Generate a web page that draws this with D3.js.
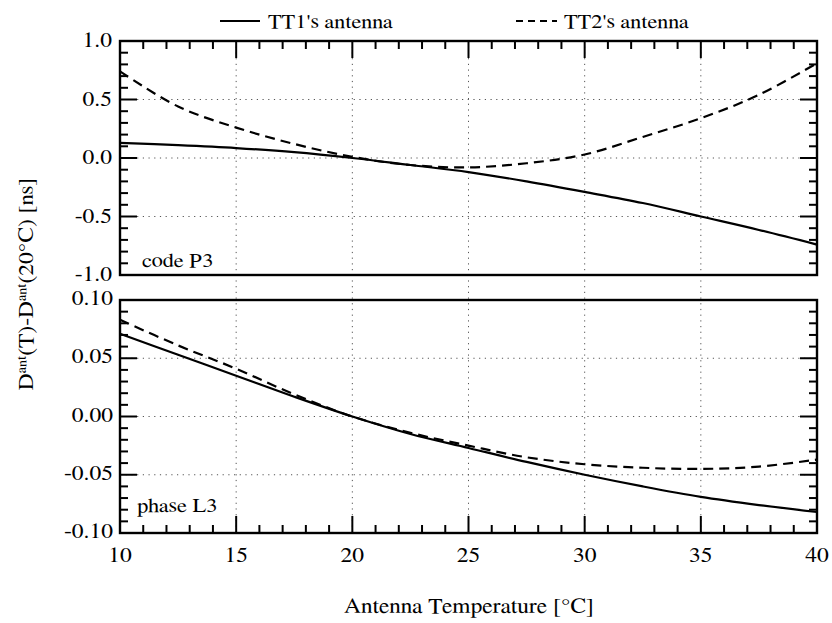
<!DOCTYPE html>
<html><head><meta charset="utf-8">
<script src="https://cdn.jsdelivr.net/npm/d3@7"></script>
<style>
body{margin:0;background:#fff;}
</style></head>
<body>
<script>
// ---- data ----
const temps = [10, 12.5, 15, 17.5, 20, 22.5, 25, 27.5, 30, 32.5, 35, 37.5, 40];
const p3_tt1 = [0.13, 0.11, 0.085, 0.05, 0.0, -0.06, -0.12, -0.20, -0.29, -0.385, -0.50, -0.615, -0.74];
const p3_tt2 = [0.74, 0.44, 0.26, 0.12, 0.01, -0.06, -0.08, -0.045, 0.03, 0.18, 0.34, 0.54, 0.81];
const l3_tt1 = [0.071, 0.053, 0.035, 0.017, 0.0, -0.015, -0.027, -0.039, -0.050, -0.060, -0.069, -0.076, -0.082];
const l3_tt2 = [0.083, 0.061, 0.041, 0.019, 0.0, -0.014, -0.025, -0.035, -0.041, -0.044, -0.045, -0.043, -0.037];
const xTicks = [10, 15, 20, 25, 30, 35, 40];
const p3Ticks = [1.0, 0.5, 0.0, -0.5, -1.0];
const p3Labels = ["1.0", "0.5", "0.0", "-0.5", "-1.0"];
const l3Ticks = [0.10, 0.05, 0.0, -0.05, -0.10];
const l3Labels = ["0.10", "0.05", "0.00", "-0.05", "-0.10"];
const seriesNames = ["TT1's antenna", "TT2's antenna"];
const panelNames = ["code P3", "phase L3"];

const FONT = "FreeSerif, 'Liberation Serif', 'Times New Roman', serif";
const W = 832, H = 623;
const svg = d3.select("body").append("svg").attr("width", W).attr("height", H)
  .attr("font-family", FONT);

const x = d3.scaleLinear().domain([10, 40]).range([120, 817]);
const yTop = d3.scaleLinear().domain([-1, 1]).range([275, 41]);
const yBot = d3.scaleLinear().domain([-0.1, 0.1]).range([533, 300]);
const SX = 1.12;

function txt(px, py, s, anchor, size) {
  return svg.append("text")
    .attr("transform", `translate(${px},${py}) scale(${SX},1)`)
    .attr("text-anchor", anchor).attr("font-family", FONT).attr("font-size", size).attr("fill", "#000").text(s);
}

const gridStyle = sel => sel.attr("stroke", "#555").attr("stroke-width", 1).attr("stroke-dasharray", "1.2,4.5").attr("fill", "none");

// vertical gridlines spanning both panels
svg.append("g").selectAll("line").data(xTicks.slice(1, -1)).join("line")
  .attr("x1", d => x(d)).attr("x2", d => x(d)).attr("y1", yTop(1)).attr("y2", yBot(-0.1))
  .call(gridStyle);
// horizontal gridlines
svg.append("g").selectAll("line").data(p3Ticks.slice(1, -1)).join("line")
  .attr("x1", x(10)).attr("x2", x(40)).attr("y1", d => yTop(d)).attr("y2", d => yTop(d)).call(gridStyle);
svg.append("g").selectAll("line").data(l3Ticks.slice(1, -1)).join("line")
  .attr("x1", x(10)).attr("x2", x(40)).attr("y1", d => yBot(d)).attr("y2", d => yBot(d)).call(gridStyle);

// frames
[[yTop(1), yTop(-1)], [yBot(0.1), yBot(-0.1)]].forEach(([t, b]) => {
  svg.append("rect").attr("x", x(10)).attr("y", t).attr("width", x(40) - x(10)).attr("height", b - t)
    .attr("fill", "none").attr("stroke", "#000").attr("stroke-width", 2.4);
});

// inward ticks drawn from scales
const MAJ = 17, MIN = 8;
const isMajor = (v, step) => Math.abs(v / step - Math.round(v / step)) < 1e-6;
const xMinor = d3.range(10, 41, 1);
const p3Minor = d3.range(-10, 11).map(d => d / 10);
const l3Minor = d3.range(-10, 11).map(d => d / 100);
const TC = "#000";
xMinor.forEach(v => {
  const L = isMajor(v, 5) ? MAJ : MIN;
  svg.append("line").attr("x1", x(v)).attr("x2", x(v)).attr("y1", yTop(1)).attr("y2", yTop(1) + L)
    .attr("stroke", TC).attr("stroke-width", 2);
  svg.append("line").attr("x1", x(v)).attr("x2", x(v)).attr("y1", yBot(-0.1)).attr("y2", yBot(-0.1) - L)
    .attr("stroke", TC).attr("stroke-width", 2);
});
[[yTop, p3Minor, 0.5], [yBot, l3Minor, 0.05]].forEach(([ys, mn, step]) => {
  mn.forEach(v => {
    const L = isMajor(v, step) ? MAJ : MIN;
    svg.append("line").attr("x1", x(10)).attr("x2", x(10) + L).attr("y1", ys(v)).attr("y2", ys(v))
      .attr("stroke", TC).attr("stroke-width", 2);
    svg.append("line").attr("x1", x(40)).attr("x2", x(40) - L).attr("y1", ys(v)).attr("y2", ys(v))
      .attr("stroke", TC).attr("stroke-width", 2);
  });
});

// curves
function curve(ys, vals, dashed) {
  const line = d3.line().x((d, i) => x(temps[i])).y(d => ys(d)).curve(d3.curveCatmullRom.alpha(0.5));
  svg.append("path").datum(vals).attr("d", line).attr("fill", "none").attr("stroke", "#000")
    .attr("stroke-width", 2.2).attr("stroke-dasharray", dashed ? "10,6" : null);
}
curve(yTop, p3_tt1, false);
curve(yTop, p3_tt2, true);
curve(yBot, l3_tt1, false);
curve(yBot, l3_tt2, true);

// tick labels
p3Ticks.forEach((v, i) => txt(112, yTop(v) + 6, p3Labels[i], "end", 21));
l3Ticks.forEach((v, i) => txt(113, yBot(v) + 5, l3Labels[i], "end", 21));
xTicks.forEach(v => txt(x(v), 562, String(v), "middle", 21));

// panel labels
txt(142, 267, panelNames[0], "start", 20);
txt(137, 512, panelNames[1], "start", 20);

// axis titles
txt(469, 613, "Antenna Temperature [°C]", "middle", 21);
const yl = svg.append("text")
  .attr("transform", `translate(33,284) rotate(-90) scale(${SX},1)`)
  .attr("text-anchor", "middle").attr("font-family", FONT).attr("font-size", 21).attr("fill", "#000");
yl.append("tspan").text("D");
yl.append("tspan").attr("baseline-shift", "super").attr("font-size", 13).text("ant");
yl.append("tspan").text("(T)-D");
yl.append("tspan").attr("baseline-shift", "super").attr("font-size", 13).text("ant");
yl.append("tspan").text("(20°C) [ns]");

// legend
svg.append("line").attr("x1", 220).attr("x2", 260).attr("y1", 21).attr("y2", 21).attr("stroke", "#000").attr("stroke-width", 2);
txt(268, 28, seriesNames[0], "start", 20);
svg.append("line").attr("x1", 516).attr("x2", 557).attr("y1", 21).attr("y2", 21).attr("stroke", "#000").attr("stroke-width", 2).attr("stroke-dasharray", "7,5");
txt(564, 28, seriesNames[1], "start", 20);
</script>
</body></html>
